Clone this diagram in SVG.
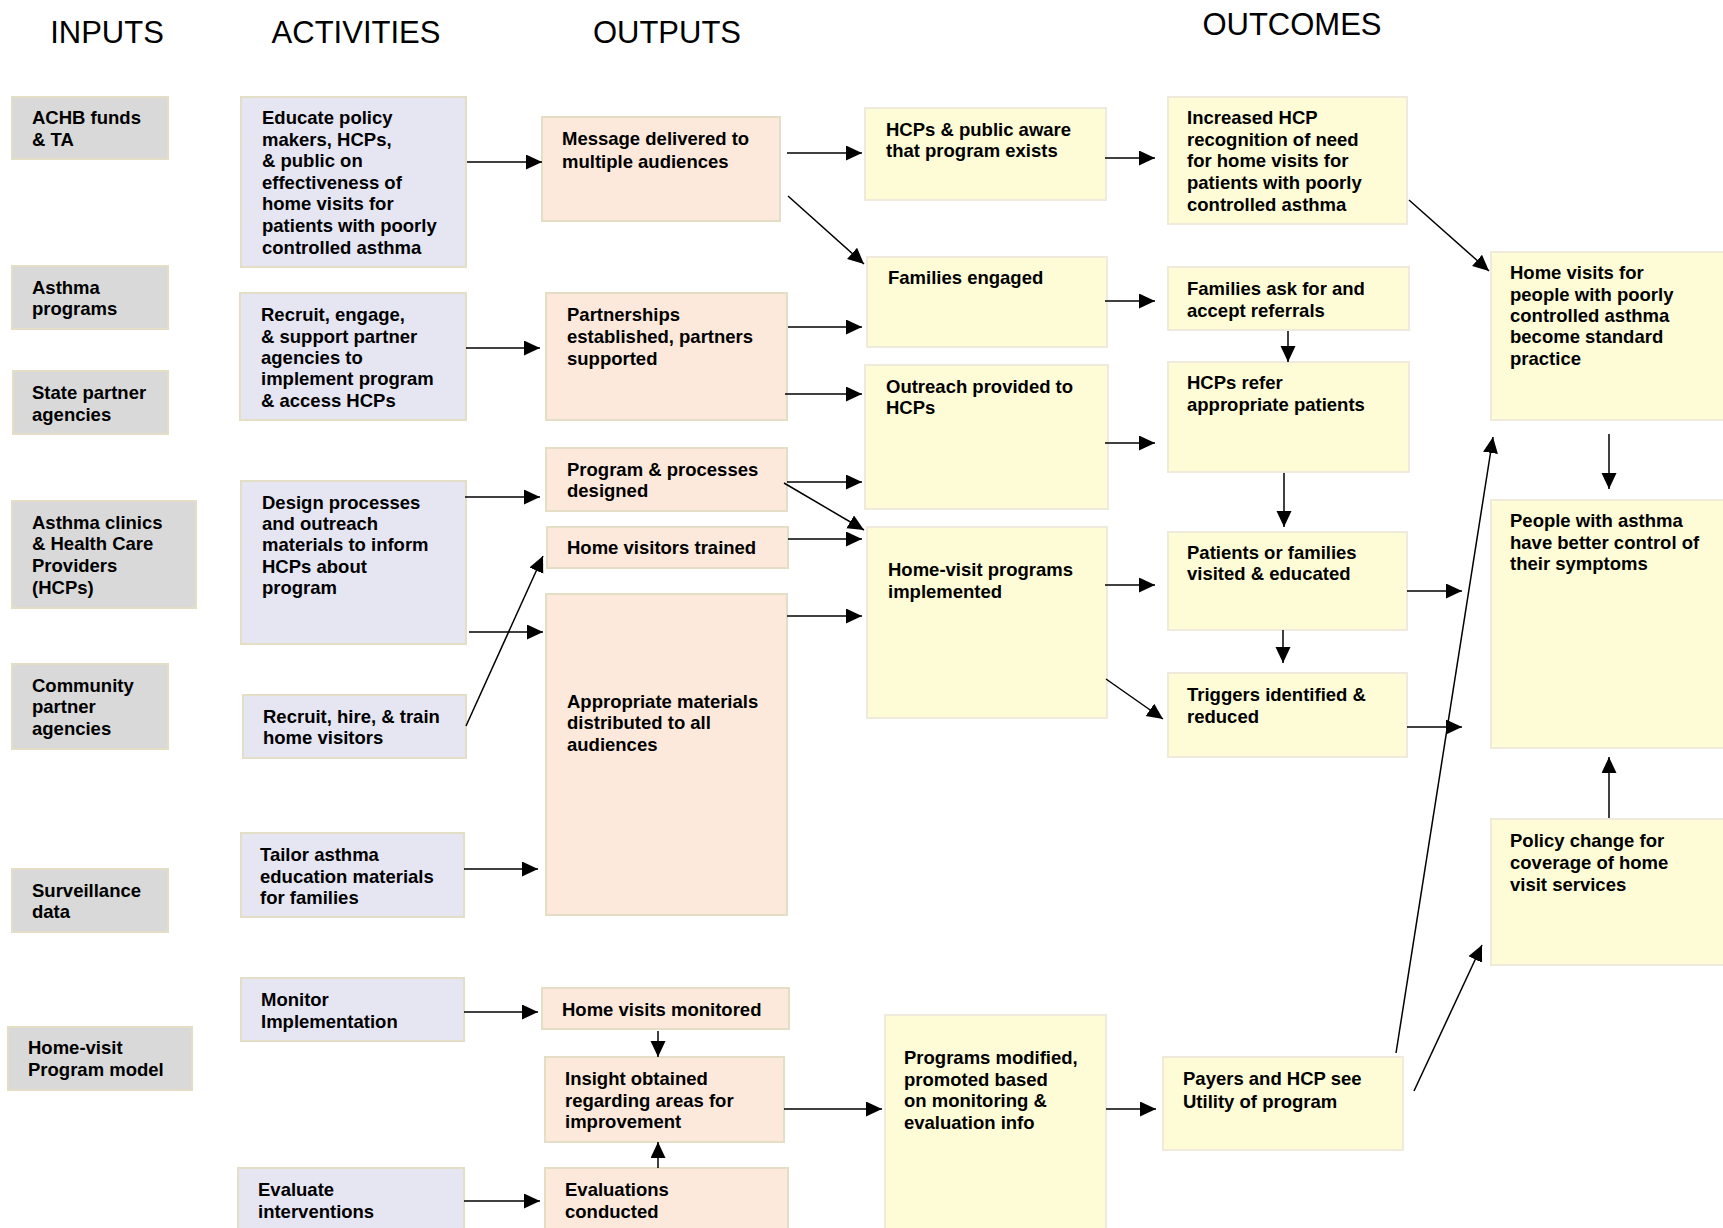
<svg xmlns="http://www.w3.org/2000/svg" width="1723" height="1228" viewBox="0 0 1723 1228">
<style>
.inp{fill:#d9d9d9;stroke:#e4dec6;stroke-width:2}
.act{fill:#e6e6f3;stroke:#e4dec6;stroke-width:2}
.out{fill:#fce9db;stroke:#e4dec6;stroke-width:2}
.oc{fill:#fefcd6;stroke:#efeadb;stroke-width:2}
text{font-family:"Liberation Sans",Arial,sans-serif;font-weight:bold;font-size:18.5px;fill:#000}
.hd{font-weight:normal;font-size:31px;text-anchor:middle}
.cn line{stroke:#000;stroke-width:1.5;marker-end:url(#ah)}
</style>
<defs>
<marker id="ah" markerUnits="userSpaceOnUse" markerWidth="16" markerHeight="16" refX="16" refY="7.5" orient="auto">
<path d="M0,0 L16,7.5 L0,15 z" fill="#000"/>
</marker>
</defs>
<rect width="1723" height="1228" fill="#fff"/>
<g id="headers">
<text class="hd" x="107" y="43">INPUTS</text>
<text class="hd" x="356" y="43">ACTIVITIES</text>
<text class="hd" x="667" y="43">OUTPUTS</text>
<text class="hd" x="1292" y="35">OUTCOMES</text>
</g>
<g id="in1"><rect class="inp" x="12" y="97" width="156" height="62"/><text x="32" y="124">ACHB funds</text><text x="32" y="146">&amp; TA</text></g>
<g id="in2"><rect class="inp" x="12" y="266" width="156" height="63"/><text x="32" y="294">Asthma</text><text x="32" y="315">programs</text></g>
<g id="in3"><rect class="inp" x="13" y="371" width="155" height="63"/><text x="32" y="399">State partner</text><text x="32" y="421">agencies</text></g>
<g id="in4"><rect class="inp" x="12" y="501" width="184" height="107"/><text x="32" y="529">Asthma clinics</text><text x="32" y="550">&amp; Health Care</text><text x="32" y="572">Providers</text><text x="32" y="594">(HCPs)</text></g>
<g id="in5"><rect class="inp" x="12" y="664" width="156" height="85"/><text x="32" y="692">Community</text><text x="32" y="713">partner</text><text x="32" y="735">agencies</text></g>
<g id="in6"><rect class="inp" x="12" y="869" width="156" height="63"/><text x="32" y="897">Surveillance</text><text x="32" y="918">data</text></g>
<g id="in7"><rect class="inp" x="8" y="1027" width="184" height="63"/><text x="28" y="1054">Home-visit</text><text x="28" y="1076">Program model</text></g>

<g id="a1"><rect class="act" x="241" y="97" width="225" height="170"/><text x="262" y="124">Educate policy</text><text x="262" y="146">makers, HCPs,</text><text x="262" y="167">&amp; public on</text><text x="262" y="189">effectiveness of</text><text x="262" y="210">home visits for</text><text x="262" y="232">patients with poorly</text><text x="262" y="254">controlled asthma</text></g>
<g id="a2"><rect class="act" x="240" y="293" width="226" height="127"/><text x="261" y="321">Recruit, engage,</text><text x="261" y="343">&amp; support partner</text><text x="261" y="364">agencies to</text><text x="261" y="385">implement program</text><text x="261" y="407">&amp; access HCPs</text></g>
<g id="a3"><rect class="act" x="241" y="481" width="225" height="163"/><text x="262" y="509">Design processes</text><text x="262" y="530">and outreach</text><text x="262" y="551">materials to inform</text><text x="262" y="573">HCPs about</text><text x="262" y="594">program</text></g>
<g id="a4"><rect class="act" x="243" y="695" width="223" height="63"/><text x="263" y="723">Recruit, hire, &amp; train</text><text x="263" y="744">home visitors</text></g>
<g id="a5"><rect class="act" x="241" y="833" width="223" height="84"/><text x="260" y="861">Tailor asthma</text><text x="260" y="883">education materials</text><text x="260" y="904">for families</text></g>
<g id="a6"><rect class="act" x="241" y="978" width="223" height="63"/><text x="261" y="1006">Monitor</text><text x="261" y="1028">Implementation</text></g>
<g id="a7"><rect class="act" x="238" y="1168" width="226" height="70"/><text x="258" y="1196">Evaluate</text><text x="258" y="1218">interventions</text></g>

<g id="o1"><rect class="out" x="542" y="117" width="238" height="104"/><text x="562" y="145">Message delivered to</text><text x="562" y="168">multiple audiences</text></g>
<g id="o2"><rect class="out" x="546" y="293" width="241" height="127"/><text x="567" y="321">Partnerships</text><text x="567" y="343">established, partners</text><text x="567" y="365">supported</text></g>
<g id="o3"><rect class="out" x="546" y="448" width="241" height="63"/><text x="567" y="476">Program &amp; processes</text><text x="567" y="497">designed</text></g>
<g id="o4"><rect class="out" x="547" y="527" width="241" height="41"/><text x="567" y="554">Home visitors trained</text></g>
<g id="o5"><rect class="out" x="546" y="594" width="241" height="321"/><text x="567" y="708">Appropriate materials</text><text x="567" y="729">distributed to all</text><text x="567" y="751">audiences</text></g>
<g id="o6"><rect class="out" x="542" y="988" width="247" height="41"/><text x="562" y="1016">Home visits monitored</text></g>
<g id="o7"><rect class="out" x="545" y="1057" width="239" height="85"/><text x="565" y="1085">Insight obtained</text><text x="565" y="1107">regarding areas for</text><text x="565" y="1128">improvement</text></g>
<g id="o8"><rect class="out" x="545" y="1168" width="243" height="70"/><text x="565" y="1196">Evaluations</text><text x="565" y="1218">conducted</text></g>

<g id="c1"><rect class="oc" x="865" y="108" width="241" height="92"/><text x="886" y="136">HCPs &amp; public aware</text><text x="886" y="157">that program exists</text></g>
<g id="c2"><rect class="oc" x="867" y="257" width="240" height="90"/><text x="888" y="284">Families engaged</text></g>
<g id="c3"><rect class="oc" x="865" y="365" width="243" height="144"/><text x="886" y="393">Outreach provided to</text><text x="886" y="414">HCPs</text></g>
<g id="c4"><rect class="oc" x="867" y="527" width="240" height="191"/><text x="888" y="576">Home-visit programs</text><text x="888" y="598">implemented</text></g>
<g id="c5"><rect class="oc" x="885" y="1015" width="221" height="230"/><text x="904" y="1064">Programs modified,</text><text x="904" y="1086">promoted based</text><text x="904" y="1107">on monitoring &amp;</text><text x="904" y="1129">evaluation info</text></g>
<g id="c6"><rect class="oc" x="1168" y="97" width="239" height="127"/><text x="1187" y="124">Increased HCP</text><text x="1187" y="146">recognition of need</text><text x="1187" y="167">for home visits for</text><text x="1187" y="189">patients with poorly</text><text x="1187" y="211">controlled asthma</text></g>
<g id="c7"><rect class="oc" x="1168" y="267" width="241" height="63"/><text x="1187" y="295">Families ask for and</text><text x="1187" y="317">accept referrals</text></g>
<g id="c8"><rect class="oc" x="1168" y="362" width="241" height="110"/><text x="1187" y="389">HCPs refer</text><text x="1187" y="411">appropriate patients</text></g>
<g id="c9"><rect class="oc" x="1168" y="532" width="239" height="98"/><text x="1187" y="559">Patients or families</text><text x="1187" y="580">visited &amp; educated</text></g>
<g id="c10"><rect class="oc" x="1168" y="673" width="239" height="84"/><text x="1187" y="701">Triggers identified &amp;</text><text x="1187" y="723">reduced</text></g>
<g id="c11"><rect class="oc" x="1163" y="1057" width="240" height="93"/><text x="1183" y="1085">Payers and HCP see</text><text x="1183" y="1108">Utility of program</text></g>
<g id="c12"><rect class="oc" x="1491" y="252" width="250" height="168"/><text x="1510" y="279">Home visits for</text><text x="1510" y="301">people with poorly</text><text x="1510" y="322">controlled asthma</text><text x="1510" y="343">become standard</text><text x="1510" y="365">practice</text></g>
<g id="c13"><rect class="oc" x="1491" y="500" width="250" height="248"/><text x="1510" y="527">People with asthma</text><text x="1510" y="549">have better control of</text><text x="1510" y="570">their symptoms</text></g>
<g id="c14"><rect class="oc" x="1491" y="819" width="250" height="146"/><text x="1510" y="847">Policy change for</text><text x="1510" y="869">coverage of home</text><text x="1510" y="891">visit services</text></g>

<g id="connectors" class="cn">
<line x1="467" y1="162" x2="542" y2="162"/>
<line x1="787" y1="153" x2="862" y2="153"/>
<line x1="788" y1="196" x2="864" y2="264"/>
<line x1="1105" y1="158" x2="1155" y2="158"/>
<line x1="1409" y1="200" x2="1489" y2="271"/>
<line x1="466" y1="348" x2="540" y2="348"/>
<line x1="788" y1="327" x2="862" y2="327"/>
<line x1="785" y1="394" x2="862" y2="394"/>
<line x1="1105" y1="301" x2="1155" y2="301"/>
<line x1="1288" y1="331" x2="1288" y2="362"/>
<line x1="1105" y1="443" x2="1155" y2="443"/>
<line x1="1284" y1="473" x2="1284" y2="527"/>
<line x1="465" y1="497" x2="540" y2="497"/>
<line x1="787" y1="482" x2="862" y2="482"/>
<line x1="784" y1="483" x2="864" y2="530"/>
<line x1="788" y1="539" x2="862" y2="539"/>
<line x1="466" y1="726" x2="543" y2="556"/>
<line x1="469" y1="632" x2="543" y2="632"/>
<line x1="787" y1="616" x2="862" y2="616"/>
<line x1="464" y1="869" x2="538" y2="869"/>
<line x1="1105" y1="585" x2="1155" y2="585"/>
<line x1="1407" y1="591" x2="1462" y2="591"/>
<line x1="1283" y1="630" x2="1283" y2="663"/>
<line x1="1106" y1="679" x2="1163" y2="719"/>
<line x1="1407" y1="727" x2="1462" y2="727"/>
<line x1="1609" y1="434" x2="1609" y2="489"/>
<line x1="1609" y1="818" x2="1609" y2="757"/>
<line x1="1396" y1="1053" x2="1493" y2="437"/>
<line x1="1414" y1="1091" x2="1482" y2="945"/>
<line x1="464" y1="1012" x2="538" y2="1012"/>
<line x1="658" y1="1031" x2="658" y2="1057"/>
<line x1="658" y1="1168" x2="658" y2="1142"/>
<line x1="464" y1="1201" x2="540" y2="1201"/>
<line x1="784" y1="1109" x2="882" y2="1109"/>
<line x1="1106" y1="1109" x2="1156" y2="1109"/>
</g>
</svg>
